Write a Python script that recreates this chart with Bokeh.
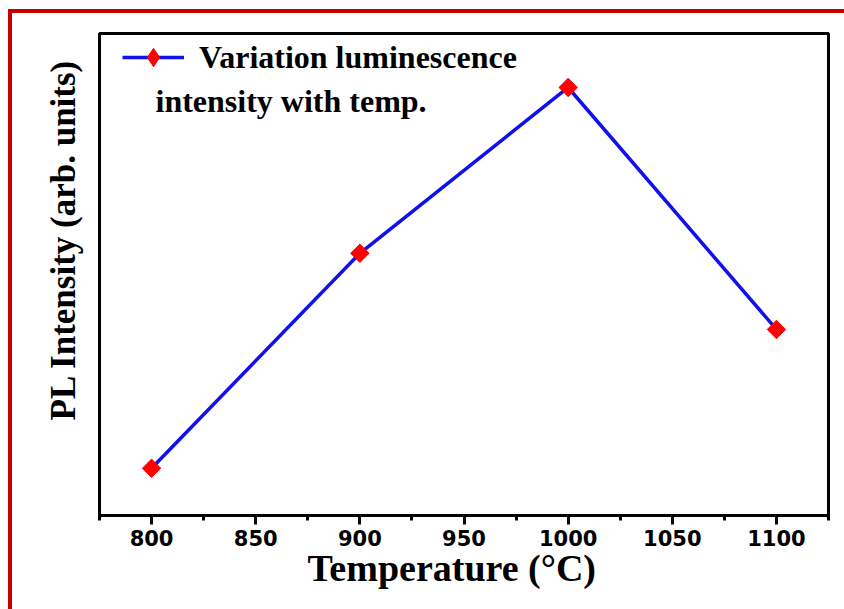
import numpy as np
from bokeh.plotting import figure
from bokeh.models import SingleIntervalTicker, FixedTicker, Legend, LegendItem, Range1d, Label, Title
from bokeh.layouts import column
from bokeh.embed import file_html
from bokeh.resources import INLINE

temperature = [800, 900, 1000, 1100]
pl_intensity = [9.8, 54.4, 88.8, 38.6]
legend_line1 = "Variation luminescence"
legend_line2 = "intensity with temp."
x_title = "Temperature (°C)"
y_title = "PL Intensity (arb. units)"

FRAME_W, FRAME_H = 729, 482

p = figure(output_backend="svg", toolbar_location=None,
           frame_width=FRAME_W, frame_height=FRAME_H,
           min_border_left=87, min_border_top=20, min_border_right=16, min_border_bottom=94,
           x_range=Range1d(775, 1125), y_range=Range1d(0, 100))
p.grid.visible = False
p.outline_line_color = "black"
p.outline_line_width = 3
p.background_fill_color = "white"
p.border_fill_color = "white"

ln = p.line(temperature, pl_intensity, line_color="#1010ee", line_width=3.5)
sc = p.scatter(temperature, pl_intensity, marker="square", angle=np.pi / 4, size=13,
               fill_color="#ff0000", line_color="#ff0000")
# legend-only key marker (NaN position, so nothing is drawn in the plot area)
key = p.scatter([np.nan], [np.nan], marker="diamond", fill_color="#ff0000", line_color="#ff0000")

xa = p.xaxis[0]
xa.ticker = SingleIntervalTicker(interval=50, num_minor_ticks=2)
xa.axis_line_width = 3
xa.major_tick_line_width = 3
xa.minor_tick_line_width = 3
xa.major_tick_in = 0
xa.major_tick_out = 9
xa.minor_tick_in = 0
xa.minor_tick_out = 5
xa.major_label_text_font = "DejaVu Sans"
xa.major_label_text_font_style = "bold"
xa.major_label_text_font_size = "21px"
xa.major_label_text_color = "black"
xa.major_label_standoff = 5

ya = p.yaxis[0]
ya.ticker = FixedTicker(ticks=[])
ya.axis_line_width = 3
ya.major_tick_out = 0
ya.minor_tick_out = 0

p.add_layout(Title(text=x_title, align="left", offset=208, standoff=-8,
                   text_font="Liberation Serif", text_font_style="bold", text_font_size="38px",
                   text_color="black"), "below")
p.add_layout(Title(text=y_title, align="left", offset=95, standoff=34,
                   text_font="Liberation Serif", text_font_style="bold", text_font_size="35px",
                   text_color="black"), "left")

legend = Legend(items=[LegendItem(label=legend_line1, renderers=[ln, key])],
                location=(23, FRAME_H - 1 - 46), border_line_alpha=0, background_fill_alpha=0,
                glyph_width=62, glyph_height=46, label_text_font="Liberation Serif",
                label_text_font_style="bold", label_text_font_size="32px",
                label_text_color="black", margin=0, padding=0, spacing=0,
                label_standoff=15, label_height=46)
p.add_layout(legend)

p.add_layout(Label(x=56, y=FRAME_H - 67, x_units="screen", y_units="screen",
                   text=legend_line2, text_font="Liberation Serif", text_font_style="bold",
                   text_font_size="32px", text_color="black", text_baseline="alphabetic"))

layout = column(p, styles={"border-left": "4px solid #c40000", "border-top": "4px solid #c40000",
                           "margin-left": "8px", "margin-top": "9px"})

open("out.html", "w").write(file_html(layout, INLINE))
